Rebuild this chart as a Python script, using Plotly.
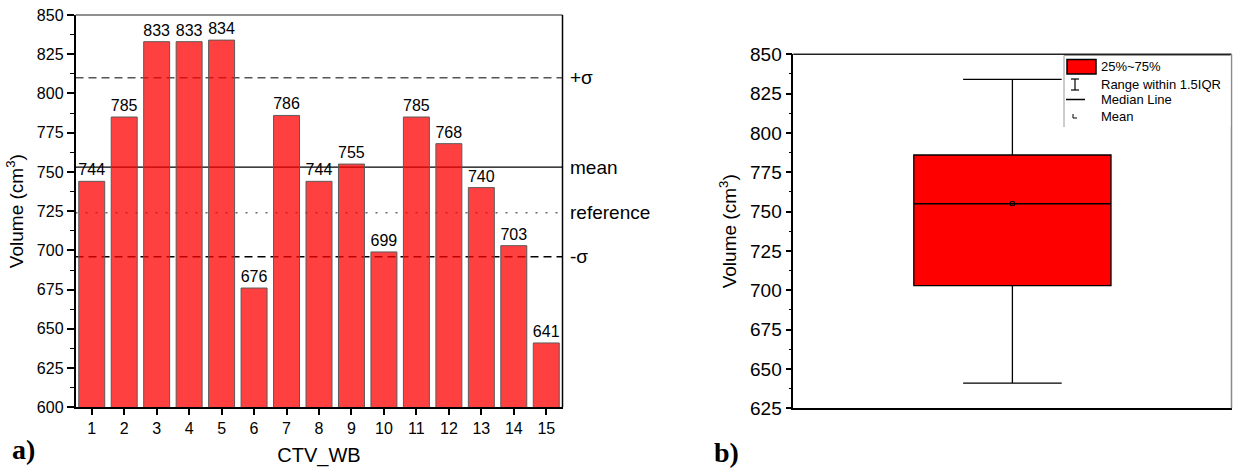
import plotly.graph_objects as go

# --- data -------------------------------------------------------------
cases = list(range(1, 16))
volumes = [744, 785, 833, 833, 834, 676, 786, 744, 755, 699, 785, 768, 740, 703, 641]

# reference levels drawn across panel a)
level_names = ["+σ", "mean", "reference", "-σ"]
level_values = [810, 753, 724, 696]

y_ticks_a = [600, 625, 650, 675, 700, 725, 750, 775, 800, 825, 850]
y_ticks_b = [625, 650, 675, 700, 725, 750, 775, 800, 825, 850]

legend_labels = ["25%~75%", "Range within 1.5IQR", "Median Line", "Mean"]

# --- helpers ----------------------------------------------------------
W, H = 1241, 474
SANS = "Liberation Sans, Arial, sans-serif"
SERIF = "Liberation Serif, Times New Roman, serif"


def px(x):
    return x / W


def py(y):
    return 1 - y / H


level_styles = {
    "+σ": dict(color="#555555", width=1.5, dash="8px,5px"),
    "mean": dict(color="#000000", width=1.2, dash="solid"),
    "reference": dict(color="#666666", width=1.5, dash="2px,8px"),
    "-σ": dict(color="#000000", width=1.5, dash="8px,5px"),
}

fig = go.Figure()

# panel a) bars
fig.add_trace(go.Bar(
    x=cases, y=volumes,
    width=0.8,
    marker=dict(color="rgba(255,0,0,0.75)", line=dict(color="#5a5a5a", width=1)),
    text=volumes, textposition="outside",
    textfont=dict(family=SANS, size=16, color="black"),
    cliponaxis=False, constraintext="none",
    xaxis="x", yaxis="y", showlegend=False,
))

# panel b) box plot of the same volumes
fig.add_trace(go.Box(
    y=volumes, x0=0, width=0.9, whiskerwidth=0.5,
    quartilemethod="exclusive", boxpoints=False,
    fillcolor="#ff0000", line=dict(color="black", width=1.3),
    xaxis="x2", yaxis="y2", showlegend=False,
))
mean_vol = sum(volumes) / len(volumes)
fig.add_trace(go.Scatter(
    x=[0], y=[mean_vol], mode="markers",
    marker=dict(symbol="square-open", size=4, color="black", line=dict(width=1)),
    xaxis="x2", yaxis="y2", showlegend=False,
))

shapes = []
annotations = []

# horizontal levels behind the bars, labelled at the right edge
for name, val in zip(level_names, level_values):
    shapes.append(dict(type="line", xref="x domain", yref="y", x0=0, x1=1,
                       y0=val, y1=val, layer="below", line=level_styles[name]))
    annotations.append(dict(text=name, xref="x domain", yref="y", x=1, y=val,
                            xanchor="left", yanchor="middle", xshift=5, showarrow=False,
                            font=dict(family=SANS, size=19, color="black")))

# frame lines (top / right) of both panels
shapes += [
    dict(type="line", xref="x domain", yref="y domain", x0=0, x1=1, y0=1, y1=1,
         line=dict(color="#6a6a6a", width=1.5)),
    dict(type="line", xref="x domain", yref="y domain", x0=1, x1=1, y0=0, y1=1,
         line=dict(color="black", width=1.5)),
    dict(type="line", xref="x2 domain", yref="y2 domain", x0=0, x1=1, y0=1, y1=1,
         line=dict(color="#222222", width=1.5)),
    dict(type="line", xref="x2 domain", yref="y2 domain", x0=1, x1=1, y0=0, y1=1,
         line=dict(color="#8a8a8a", width=1.5)),
]

# hand-built legend box for panel b)
lx0, ly0, ly1 = 1064, 55.5, 127
shapes += [
    dict(type="rect", xref="paper", yref="paper", x0=px(lx0), x1=px(1230.5),
         y0=py(ly1), y1=py(ly0), fillcolor="white", line=dict(width=0), layer="above"),
    dict(type="line", xref="paper", yref="paper", x0=px(lx0), x1=px(1230.5),
         y0=py(ly0), y1=py(ly0), line=dict(color="#9a9a9a", width=1)),
    dict(type="line", xref="paper", yref="paper", x0=px(lx0), x1=px(lx0),
         y0=py(ly0), y1=py(ly1), line=dict(color="#9a9a9a", width=1)),
    # swatch for the box
    dict(type="rect", xref="paper", yref="paper", x0=px(1067), x1=px(1096),
         y0=py(74), y1=py(59.5), fillcolor="#ff0000", line=dict(color="black", width=1.5)),
    # whisker glyph
    dict(type="line", xref="paper", yref="paper", x0=px(1075), x1=px(1075),
         y0=py(79), y1=py(90), line=dict(color="black", width=1.2)),
    dict(type="line", xref="paper", yref="paper", x0=px(1071), x1=px(1079),
         y0=py(79), y1=py(79), line=dict(color="black", width=1.2)),
    dict(type="line", xref="paper", yref="paper", x0=px(1071), x1=px(1079),
         y0=py(90), y1=py(90), line=dict(color="black", width=1.2)),
    # median glyph
    dict(type="line", xref="paper", yref="paper", x0=px(1066), x1=px(1085),
         y0=py(99.5), y1=py(99.5), line=dict(color="black", width=1.5)),
    # mean glyph
    dict(type="path", xref="paper", yref="paper",
         path=f"M {px(1073)} {py(114)} L {px(1073)} {py(118)} L {px(1077)} {py(118)}",
         line=dict(color="black", width=1)),
]
for label, yc in zip(legend_labels, [66.5, 84, 99.5, 117]):
    annotations.append(dict(text=label, xref="paper", yref="paper", x=px(1099), y=py(yc),
                            xanchor="left", yanchor="middle", showarrow=False,
                            font=dict(family=SANS, size=13, color="black")))

# panel tags
annotations += [
    dict(text="<b>a)</b>", xref="paper", yref="paper", x=px(10), y=py(449),
         xanchor="left", yanchor="middle", showarrow=False,
         font=dict(family=SERIF, size=28, color="black")),
    dict(text="<b>b)</b>", xref="paper", yref="paper", x=px(712), y=py(452),
         xanchor="left", yanchor="middle", showarrow=False,
         font=dict(family=SERIF, size=28, color="black")),
]

axis_common = dict(showline=True, linecolor="black", linewidth=1.5, showgrid=False,
                   zeroline=False, ticks="outside", tickcolor="black", tickwidth=1.5,
                   automargin=False)

fig.update_layout(
    width=W, height=H, autosize=False,
    margin=dict(l=0, r=0, t=0, b=0),
    paper_bgcolor="white", plot_bgcolor="white",
    font=dict(family=SANS, color="black"),
    bargap=0.2,
    xaxis=dict(**axis_common, domain=[px(75.5), px(562.5)], range=[0.5, 15.5],
               tickmode="array", tickvals=cases, ticklen=6,
               tickfont=dict(size=16), anchor="y",
               title=dict(text="CTV_WB", font=dict(size=20), standoff=12)),
    yaxis=dict(**axis_common, domain=[py(407.3), py(15)], range=[600, 850],
               tickmode="array", tickvals=y_ticks_a, ticklen=7,
               tickfont=dict(size=16), anchor="x",
               minor=dict(ticks="outside", ticklen=4, tickwidth=1.2, tickcolor="black", dtick=12.5,
                          tick0=600),
               title=dict(text="Volume (cm<sup>3</sup>)", font=dict(size=19), standoff=8)),
    xaxis2=dict(**{**axis_common, "ticks": ""}, domain=[px(793.3), px(1231.5)], range=[-1, 1],
                showticklabels=False, anchor="y2", type="linear"),
    yaxis2=dict(**axis_common, domain=[py(408.3), py(54.3)], range=[625, 850],
                tickmode="array", tickvals=y_ticks_b, ticklen=6,
                tickfont=dict(size=19), anchor="x2",
                minor=dict(ticks="outside", ticklen=3, tickwidth=1.2, tickcolor="black", dtick=12.5,
                           tick0=625),
                title=dict(text="Volume (cm<sup>3</sup>)", font=dict(size=19), standoff=8)),
    shapes=shapes,
    annotations=annotations,
)

fig.write_html("out.html")
